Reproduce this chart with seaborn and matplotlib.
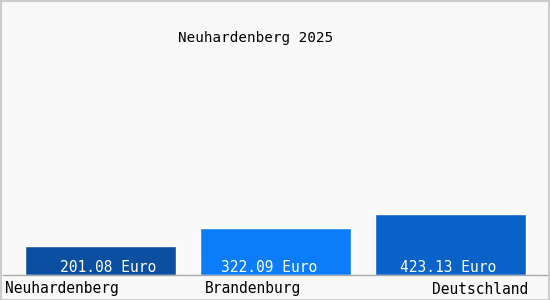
import matplotlib
matplotlib.use("Agg")
import matplotlib.pyplot as plt
import seaborn as sns
import pandas as pd
from matplotlib.patches import Rectangle

categories = ["Neuhardenberg", "Brandenburg", "Deutschland"]
values = [201.08, 322.09, 423.13]
value_labels = ["201.08 Euro", "322.09 Euro", "423.13 Euro"]
title = "Neuhardenberg 2025"
bar_colors = ["#0a4fa0", "#0b7cfa", "#0862c8"]

sns.set_style("white")
plt.rcParams["font.family"] = ["DejaVu Sans Mono", "DejaVu Sans"]

W, H = 550, 300
fig = plt.figure(figsize=(5.5, 3.0), dpi=100)
fig.patch.set_facecolor("#f9f9f9")

ax = fig.add_axes([3 / W, (H - 275) / H, 544 / W, 255 / H])
ax.set_facecolor("#f9f9f9")

df = pd.DataFrame({"cat": categories, "val": values})
sns.barplot(data=df, x="cat", y="val", hue="cat", palette=bar_colors,
            width=151 / 175, legend=False, ax=ax, saturation=1)

ax.set_xlim((3 - 100.5) / 175, (547 - 100.5) / 175)
ax.set_ylim(0, 255 / 0.1445)
ax.set_xlabel("")
ax.set_ylabel("")
ax.set_xticks([])
ax.set_yticks([])
for s in ["top", "left", "right"]:
    ax.spines[s].set_visible(False)
ax.spines["bottom"].set_color("#a8a8a8")
ax.spines["bottom"].set_linewidth(1)

# value labels inside bars
label_shift_px = [8, -6, -2]
blend = matplotlib.transforms.blended_transform_factory(ax.transData, fig.transFigure)
for i, lab in enumerate(value_labels):
    off = matplotlib.transforms.ScaledTranslation(label_shift_px[i] / 100, 0,
                                                  fig.dpi_scale_trans)
    ax.text(i, (H - 268) / H, lab, ha="center", va="center", color="white",
            fontsize=10.5, transform=blend + off)

# category labels below
fig.text(5 / W, (H - 289) / H, categories[0], ha="left", va="center",
         fontsize=10.5, color="black")
fig.text(253 / W, (H - 289) / H, categories[1], ha="center", va="center",
         fontsize=10.5, color="black")
fig.text(528 / W, (H - 289) / H, categories[2], ha="right", va="center",
         fontsize=10.5, color="black")

# title
fig.text(256 / W, (H - 38) / H, title, ha="center", va="center",
         fontsize=10.3, color="black")

# figure border
fig.patches.append(Rectangle((0.5 / W, 0.5 / H), (W - 1.5) / W, (H - 1.5) / H,
                             transform=fig.transFigure, fill=False,
                             edgecolor="#cccccc", linewidth=1.5))

fig.savefig("out.png", dpi=100, facecolor=fig.get_facecolor())
